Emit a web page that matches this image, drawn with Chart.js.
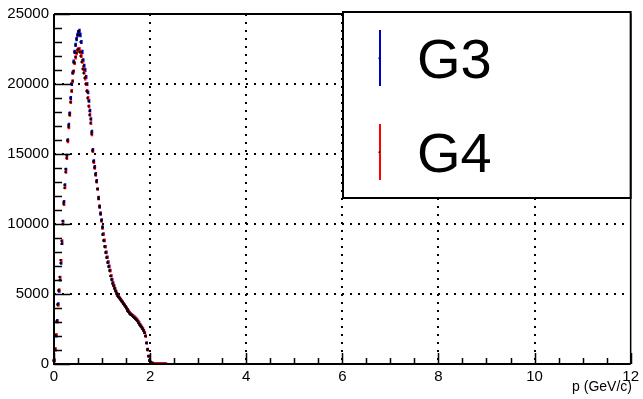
<!DOCTYPE html>
<html>
<head>
<meta charset="utf-8">
<script src="https://cdn.jsdelivr.net/npm/chart.js@4/dist/chart.umd.min.js"></script>
<style>
html,body{margin:0;padding:0;background:#fff;}
#wrap{width:643px;height:399px;}
</style>
</head>
<body>
<div id="wrap"><canvas id="c" width="643" height="399"></canvas></div>
<script>
// Histogram: bin width 0.02 GeV/c starting at 0
const binWidth = 0.02;
const seriesNames = ["G3", "G4"];
const xTickLabels = ["0", "2", "4", "6", "8", "10", "12"];
const yTickLabels = ["0", "5000", "10000", "15000", "20000", "25000"];
const xTitle = "p (GeV/c)";

const g3 = [
  250, 1000, 2000, 3100, 4300, 5200, 6000, 7200, 8600, 10200,
  11600, 12800, 13900, 14900, 16000, 17100, 17900, 19000, 20000, 20800,
  21600, 22300, 22800, 23200, 23500, 23700, 23800, 23500, 23000, 22300,
  21700, 21300, 21000, 20500, 20000, 19400, 18800, 18100, 17500, 16600,
  15300, 14500, 14100, 13600, 13100, 12500, 11800, 11200, 10700, 10300,
  9800, 9300, 8800, 8400, 8000, 7650, 7300, 7000, 6700, 6300,
  6000, 5800, 5600, 5400, 5200, 5050, 4900, 4800, 4720, 4620,
  4520, 4420, 4320, 4220, 4110, 4000, 3900, 3780, 3690, 3600,
  3540, 3480, 3420, 3360, 3300, 3240, 3150, 3050, 2940, 2830,
  2720, 2620, 2530, 2400, 2250, 2000, 1500, 1050, 550, 250,
  120, 70, 45, 30, 22, 15, 12, 9, 7, 5,
  4, 3, 2, 2, 1, 1, 1
];
const g4 = [
  300, 1100, 2100, 3000, 4200, 5300, 6200, 7400, 8800, 10000,
  11400, 12600, 13700, 14700, 15900, 16900, 17800, 18700, 19500, 20200,
  20900, 21500, 21900, 22200, 22400, 22500, 22500, 22300, 22000, 21600,
  21100, 20800, 20400, 20000, 19500, 19000, 18400, 17800, 17200, 16400,
  15200, 14400, 14000, 13500, 13000, 12500, 11900, 11300, 10800, 10200,
  9700, 9250, 8850, 8350, 7950, 7600, 7250, 6950, 6650, 6300,
  6050, 5750, 5550, 5350, 5200, 5000, 4880, 4780, 4700, 4600,
  4500, 4400, 4300, 4200, 4100, 3980, 3880, 3770, 3680, 3610,
  3530, 3470, 3400, 3350, 3290, 3220, 3140, 3040, 2930, 2820,
  2710, 2610, 2520, 2390, 2230, 1980, 1520, 1000, 560, 260,
  130, 80, 50, 35, 25, 18, 13, 10, 8, 6,
  5, 4, 3, 2, 2, 1, 1
];

function toPoints(arr) {
  return arr.map((v, i) => ({ x: (i + 0.5) * binWidth, y: v }));
}

const errRadius = (ctx) => {
  const s = ctx.chart.scales.y;
  const v = ctx.raw ? ctx.raw.y : 0;
  if (!s) return 2;
  return Math.max(1.5, s.getPixelForValue(0) - s.getPixelForValue(Math.sqrt(v)));
};

const rootPlugin = {
  id: 'rootStyle',
  afterDatasetsDraw(chart) {
    const ctx = chart.ctx;
    ctx.save();
    ctx.fillStyle = '#000';
    chart.data.datasets.forEach((ds, i) => {
      const meta = chart.getDatasetMeta(i);
      meta.data.forEach(pt => {
        ctx.fillRect(Math.round(pt.x) - 1.5, Math.round(pt.y) - 1, 2, 2);
      });
    });
    ctx.restore();
  },
  afterDraw(chart) {
    const ctx = chart.ctx;
    const a = chart.chartArea;
    const xs = chart.scales.x, ys = chart.scales.y;
    ctx.save();
    ctx.strokeStyle = '#000';
    // inside ticks
    ctx.lineWidth = 1.5;
    ctx.beginPath();
    for (let v = 0; v <= 12.0001; v += 0.5) {
      const px = Math.round(xs.getPixelForValue(v)) + 0.5;
      const major = Math.abs(v / 2 - Math.round(v / 2)) < 1e-6;
      const len = major ? 11 : 6;
      ctx.moveTo(px, a.bottom);
      ctx.lineTo(px, a.bottom - len);
    }
    for (let v = 0; v <= 25000; v += 1000) {
      const py = Math.round(ys.getPixelForValue(v)) + 0.5;
      const len = (v % 5000 === 0) ? 16 : 8;
      ctx.moveTo(a.left, py);
      ctx.lineTo(a.left + len, py);
    }
    ctx.stroke();
    // frame
    ctx.lineWidth = 2;
    ctx.beginPath();
    ctx.moveTo(a.left, a.top);
    ctx.lineTo(a.left, a.bottom);
    ctx.lineTo(a.right, a.bottom);
    ctx.moveTo(a.left, a.top);
    ctx.lineTo(a.right, a.top);
    ctx.stroke();
    ctx.lineWidth = 1.5;
    ctx.beginPath();
    ctx.moveTo(a.right, a.top);
    ctx.lineTo(a.right, a.bottom);
    ctx.stroke();

    // legend box
    const lx = 343, ly = 12, lw = a.right - 343, lh = 186;
    ctx.fillStyle = '#fff';
    ctx.fillRect(lx, ly, lw, lh);
    ctx.lineWidth = 2;
    ctx.strokeRect(lx, ly, lw, lh);
    const colors = ['#0000cc', '#ff0000'];
    const rows = [[30, 86], [124, 180]];
    ctx.font = '56px "Liberation Sans", Arial, sans-serif';
    ctx.textBaseline = 'alphabetic';
    ctx.textAlign = 'left';
    rows.forEach((r, i) => {
      ctx.strokeStyle = colors[i];
      ctx.lineWidth = 2;
      ctx.beginPath();
      ctx.moveTo(380, r[0]);
      ctx.lineTo(380, r[1]);
      ctx.stroke();
      ctx.fillStyle = '#000';
      ctx.fillRect(378.5, (r[0] + r[1]) / 2 - 0.5, 1.5, 1.5);
      ctx.fillText(seriesNames[i], 417, r[1] - 8);
    });

    // x axis title
    ctx.fillStyle = '#000';
    ctx.font = '14px "Liberation Sans", Arial, sans-serif';
    ctx.textAlign = 'right';
    ctx.textBaseline = 'alphabetic';
    ctx.fillText(xTitle, 632, 391);
    ctx.restore();
  }
};

const edgeTransparent = (edgeVals) => (c) => {
  const v = c.tick ? c.tick.value : null;
  return edgeVals.includes(v) ? 'rgba(0,0,0,0)' : '#000';
};

new Chart(document.getElementById('c'), {
  type: 'scatter',
  data: {
    datasets: [
      {
        label: seriesNames[0], data: toPoints(g3), order: 1,
        pointStyle: 'line', rotation: 90, radius: errRadius,
        borderColor: '#0000cc', backgroundColor: '#0000cc', borderWidth: 2.5
      },
      {
        label: seriesNames[1], data: toPoints(g4), order: 0,
        pointStyle: 'line', rotation: 90, radius: errRadius,
        borderColor: '#ff0000', backgroundColor: '#ff0000', borderWidth: 2.5
      }
    ]
  },
  options: {
    responsive: false,
    devicePixelRatio: 1,
    animation: false,
    events: [],
    layout: { padding: { top: 12, right: 9, left: 0, bottom: 0 } },
    plugins: { legend: { display: false }, tooltip: { enabled: false }, title: { display: false } },
    scales: {
      x: {
        type: 'linear', min: 0, max: 12,
        afterFit: (s) => { s.height = 35; },
        afterBuildTicks: (s) => { s.ticks = xTickLabels.map(t => ({ value: Number(t) })); },
        ticks: {
          stepSize: 2, maxRotation: 0, autoSkip: false, padding: 4, color: '#000',
          font: { family: '"Liberation Sans", Arial, sans-serif', size: 15 },
          callback: (v) => String(v)
        },
        grid: { color: edgeTransparent([0, 12]), lineWidth: 2, drawTicks: false },
        border: { display: false, dash: [2, 6] }
      },
      y: {
        type: 'linear', min: 0, max: 25000,
        afterFit: (s) => { s.width = 54; },
        afterBuildTicks: (s) => { s.ticks = yTickLabels.map(t => ({ value: Number(t) })); },
        ticks: {
          stepSize: 5000, padding: 5, color: '#000',
          font: { family: '"Liberation Sans", Arial, sans-serif', size: 15 },
          callback: (v) => String(v)
        },
        grid: { color: edgeTransparent([0, 25000]), lineWidth: 2, drawTicks: false },
        border: { display: false, dash: [2, 6] }
      }
    }
  },
  plugins: [rootPlugin]
});
</script>
</body>
</html>
